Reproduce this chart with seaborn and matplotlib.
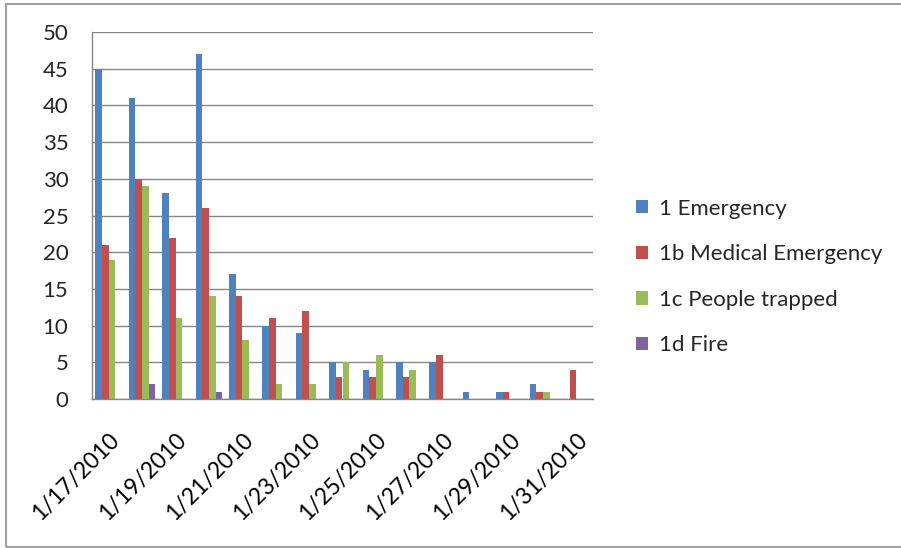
import numpy as np
import pandas as pd
import matplotlib.pyplot as plt
import matplotlib.patches as mpatches
from matplotlib.ticker import FixedLocator
import seaborn as sns

dates = ["1/17/2010", "1/18/2010", "1/19/2010", "1/20/2010", "1/21/2010",
         "1/22/2010", "1/23/2010", "1/24/2010", "1/25/2010", "1/26/2010",
         "1/27/2010", "1/28/2010", "1/29/2010", "1/30/2010", "1/31/2010"]
series_names = ["1 Emergency", "1b Medical Emergency", "1c People trapped", "1d Fire"]
emergency = [45, 41, 28, 47, 17, 10, 9, 5, 4, 5, 5, 1, 1, 2, 0]
medical = [21, 30, 22, 26, 14, 11, 12, 3, 3, 3, 6, 0, 1, 1, 4]
trapped = [19, 29, 11, 14, 8, 2, 2, 5, 6, 4, 0, 0, 0, 1, 0]
fire = [0, 2, 0, 1, 0, 0, 0, 0, 0, 0, 0, 0, 0, 0, 0]
colors = ["#4F81BD", "#C0504D", "#9BBB59", "#8064A2"]

rows = []
for name, vals in zip(series_names, [emergency, medical, trapped, fire]):
    for d, v in zip(dates, vals):
        rows.append({"date": d, "series": name, "count": v})
df = pd.DataFrame(rows)

sns.set_style("white")
plt.rcParams['font.family'] = ['Lato', 'DejaVu Sans']

fig = plt.figure(figsize=(9.01, 5.48), dpi=100)
ax = fig.add_axes([92/901, 1-399/548, (593-92)/901, (399-32)/548])

sns.barplot(data=df, x="date", y="count", hue="series", order=dates,
            hue_order=series_names, palette=colors, width=0.8,
            saturation=1, ax=ax, legend=True, errorbar=None)

for p in ax.patches:
    p.set_edgecolor("none")

gray = "#868686"
ax.set_ylim(0, 50)
ax.set_xlim(-0.5, len(dates) - 0.5)
ax.set_yticks(range(0, 51, 5))
ax.yaxis.grid(True, color=gray, linewidth=1)
ax.set_axisbelow(True)
ax.set_xlabel("")
ax.set_ylabel("")

ax.set_xticks(range(0, len(dates), 2))
ax.set_xticklabels(dates[::2], rotation=45, ha="right", rotation_mode="anchor",
                   fontsize=16.5, color="#000000")
ax.xaxis.set_minor_locator(FixedLocator(np.arange(-0.5, len(dates) - 1, 2)))
ax.tick_params(axis="x", which="major", length=0, pad=22)
ax.tick_params(axis="x", which="minor", length=7, color=gray, width=1)
ax.tick_params(axis="y", length=7, color=gray, width=1, labelsize=16, pad=10)

for s in ["top", "right"]:
    ax.spines[s].set_visible(False)
for s in ["left", "bottom"]:
    ax.spines[s].set_color(gray)
    ax.spines[s].set_linewidth(1)

handles, labels = ax.get_legend_handles_labels()
ax.get_legend().remove()
fig.legend(handles, labels, loc="center left", bbox_to_anchor=(636/901, 1-277/548),
           frameon=False, fontsize=16, handlelength=0.55, handleheight=0.55,
           handletextpad=0.5, labelspacing=1.15, borderpad=0, borderaxespad=0)

fig.patches.append(mpatches.Rectangle((6/901, 1/548), 1.0, 543/548,
                                      transform=fig.transFigure, fill=False,
                                      edgecolor="#A0A0A0", linewidth=1.5))

fig.savefig("out.png", dpi=100)
